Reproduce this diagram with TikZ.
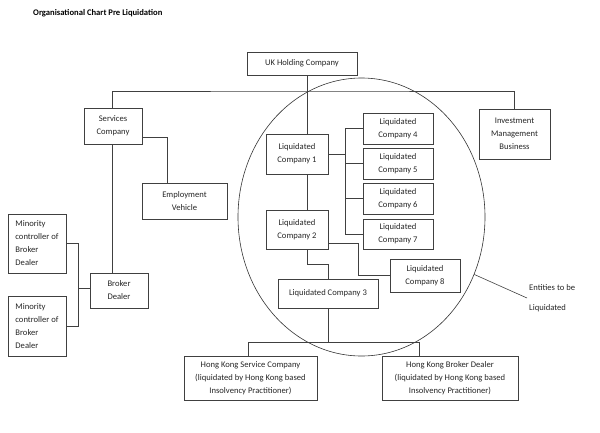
\documentclass[tikz,border=0pt]{standalone}
\usepackage{fontspec}
\setmainfont{Carlito}
\usepackage{tikz}
\usetikzlibrary{shapes}
\tikzset{box/.style={draw=black!75, line width=0.7pt, inner sep=0pt, align=center,
   text=black!85, font=\fontsize{8.6}{13}\selectfont},
 side/.style={box, align=left},
 wire/.style={draw=black!75, line width=0.6pt},
 zonestyle/.style={draw=black!80, line width=0.6pt, ellipse, inner sep=0pt},
 }

\begin{document}
\begin{tikzpicture}[x=1pt, y=-1pt]
        \useasboundingbox (0,0) rectangle (600,432);
        \node[anchor=west, font=\fontsize{8.6}{10}\selectfont\bfseries, inner sep=0pt] (title) at (33,13) {Organisational Chart Pre Liquidation};

        % circle of entities to be liquidated
        \node[zonestyle, minimum width=247pt, minimum height=278pt] (zone) at (361.5,217) {};
        \node[anchor=west, align=left, inner sep=2pt, text=black!85, font=\fontsize{8.6}{20}\selectfont] (note) at (527,298) {Entities to be\\Liquidated};
        \draw[wire] (zone.-27) -- (note.west);

        % boxes
        \node[box, minimum width=110pt, minimum height=23pt] (uk) at (302,63.5) {UK Holding Company};
        \node[box, minimum width=71pt, minimum height=50pt] (inv) at (514.5,134) {Investment\\Management\\Business};
        \node[box, minimum width=58pt, minimum height=36pt] (svc) at (113,126) {Services\\Company};
        \node[box, minimum width=85pt, minimum height=36pt] (emp) at (184.5,201) {Employment\\Vehicle};
        \node[box, minimum width=58pt, minimum height=35pt] (brk) at (119,290.5) {Broker\\Dealer};
        \node[side, minimum width=58pt, minimum height=59pt] (min1) at (37,243.5) {Minority\\controller of\\Broker\\Dealer};
        \node[side, minimum width=58pt, minimum height=60pt] (min2) at (37,326) {Minority\\controller of\\Broker\\Dealer};
        \node[box, minimum width=62pt, minimum height=40pt] (lc1) at (297,154) {Liquidated\\Company 1};
        \node[box, minimum width=62pt, minimum height=39pt] (lc2) at (297,229.5) {Liquidated\\Company 2};
        \node[box, minimum width=100pt, minimum height=29pt] (lc3) at (328,293.5) {Liquidated Company 3};
        \node[box, minimum width=70pt, minimum height=31pt] (lc4) at (398,128.5) {Liquidated\\Company 4};
        \node[box, minimum width=70pt, minimum height=31pt] (lc5) at (398,163.5) {Liquidated\\Company 5};
        \node[box, minimum width=70pt, minimum height=31pt] (lc6) at (398,198.5) {Liquidated\\Company 6};
        \node[box, minimum width=70pt, minimum height=30pt] (lc7) at (398,234) {Liquidated\\Company 7};
        \node[box, minimum width=70pt, minimum height=33pt] (lc8) at (425,275.5) {Liquidated\\Company 8};
        \node[box, minimum width=133pt, minimum height=44pt] (hks) at (250.5,378) {Hong Kong Service Company\\(liquidated by Hong Kong based\\Insolvency Practitioner)};
        \node[box, minimum width=136pt, minimum height=44pt] (hkb) at (450,378) {Hong Kong Broker Dealer\\(liquidated by Hong Kong based\\Insolvency Practitioner)};

        % connectors
        \coordinate (trunk) at (307,91);
        \coordinate (bus) at (345,0);
        \coordinate (mbus) at (78,0);
        \coordinate (split) at (328,342);
        \draw[wire] (uk.south -| trunk) -- (lc1.north -| trunk);
        \draw[wire] ([xshift=-1pt]svc.north) |- (trunk) -| (inv.north);
        \draw[wire] ([xshift=-1pt]svc.south) -- ([xshift=-7pt]brk.north);
        \draw[wire] ([yshift=-11pt]svc.east) -| ([xshift=-17.5pt]emp.north);
        \draw[wire] (min1.east) -| (mbus |- min2.east) -- (min2.east);
        \draw[wire] ([yshift=2.5pt]brk.west) -- ([yshift=2.5pt]brk.west -| mbus);
        \draw[wire] (lc1.east) -- (lc1.east -| bus);
        \draw[wire] (lc4.west -| bus) -- (lc7.west -| bus);
        \foreach \n in {lc4,lc5,lc6,lc7}
            \draw[wire] (\n.west) -- (\n.west -| bus);
        \draw[wire] (lc1.south -| trunk) -- (lc2.north -| trunk);
        \draw[wire] ([yshift=-13.5pt]lc2.east) -- ++(30,0) |- (lc8.west);
        \draw[wire] (lc2.south -| trunk) -- ++(0,15) -| (lc3.north);
        \draw[wire] (lc3.south) -- (split);
        \draw[wire] ([xshift=-2.5pt]hks.north) |- ([xshift=-31pt]hkb.north |- split) -- ([xshift=-31pt]hkb.north);
    \end{tikzpicture}
\end{document}
